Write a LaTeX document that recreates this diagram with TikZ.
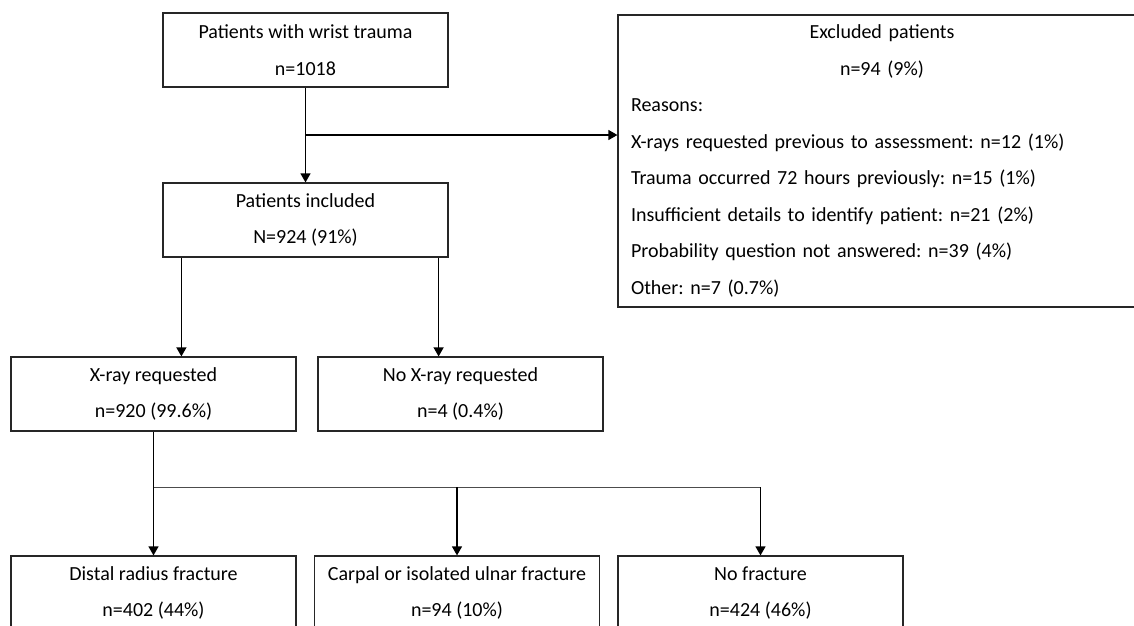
\documentclass[tikz,border=0pt]{standalone}
\usepackage{fontspec}
\setmainfont{Carlito}
\usetikzlibrary{arrows.meta,positioning,calc}
\frenchspacing

\begin{document}
\begin{tikzpicture}[
  x=1pt, y=-1pt,
  font=\fontsize{20}{36.5}\selectfont,
  box/.style = {draw=black!85, line width=1.2pt, minimum width=285pt,
    minimum height=74pt, align=center, inner sep=0pt},
  flow/.style = {line width=1.2pt, -{Triangle[width=10pt,length=9pt]}},
  ]
  \useasboundingbox (0,0) rectangle (1134,625);

  % top of the chart
  \node[box] (trauma) at (305.5,50) {Patients with wrist trauma\\ n=1018};
  \node[box] (included) at (305.5,220) {Patients included\\ N=924 (91\%)};
  \node[box, minimum width=560pt, minimum height=292pt, text width=534pt,
    align=left, inner xsep=13pt] (excluded) at (898,161)
    {\makebox[502pt][c]{Excluded patients}\\
     \makebox[502pt][c]{n=94 (9\%)}\\
     Reasons:\\
     X-rays requested previous to assessment: n=12 (1\%)\\
     Trauma occurred 72 hours previously: n=15 (1\%)\\
     Insufficient details to identify patient: n=21 (2\%)\\
     Probability question not answered: n=39 (4\%)\\
     Other: n=7 (0.7\%)};

  % second level
  \node[box] (xray) at (153.5,394) {X-ray requested\\ n=920 (99.6\%)};
  \node[box] (noxray) at (460.5,394) {No X-ray requested\\ n=4 (0.4\%)};

  % outcomes
  \node[box] (distal) at (153.5,593) {Distal radius fracture\\ n=402 (44\%)};
  \node[box] (carpal) at (457,593) {Carpal or isolated ulnar fracture\\ n=94 (10\%)};
  \node[box] (nofrac) at (760.5,593) {No fracture\\ n=424 (46\%)};

  % connectors
  \draw[flow] (trauma) -- (included);
  \coordinate (split) at ($(trauma.south)!0.5!(included.north)$);
  \draw[flow] (split) -- (split -| excluded.west);

  \coordinate (inleft) at ([xshift=19pt]included.south west);
  \coordinate (inright) at ([xshift=-10pt]included.south east);
  \draw[flow] (inleft) -- (inleft |- xray.north);
  \draw[flow] (inright) -- (inright |- noxray.north);

  \draw[flow] (xray) -- (distal);
  \coordinate (fork) at ($(xray.south)!0.45!(distal.north)$);
  \draw[line width=1.2pt, black!70] (fork) -- (fork -| nofrac.north);
  \draw[flow] (fork -| carpal.north) -- (carpal);
  \draw[flow] (fork -| nofrac.north) -- (nofrac);
\end{tikzpicture}
\end{document}
